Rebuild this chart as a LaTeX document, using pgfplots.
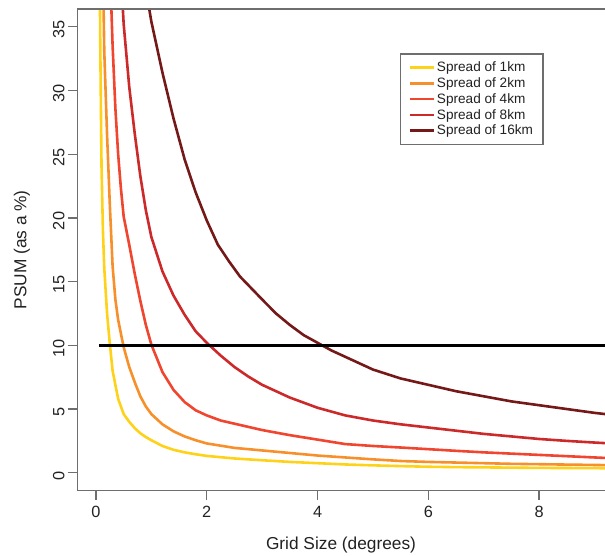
\documentclass[border=0pt]{standalone}
\usepackage{fontspec}
\setmainfont{Liberation Sans}
\usepackage{pgfplots}
\pgfplotsset{compat=1.18}

\definecolor{c1}{HTML}{FFD21A}
\definecolor{c2}{HTML}{F7902A}
\definecolor{c3}{HTML}{F0452E}
\definecolor{c4}{HTML}{CC2A2A}
\definecolor{c5}{HTML}{751818}
\definecolor{frame}{HTML}{6E6E6E}
\definecolor{txt}{HTML}{222222}

\begin{document}
\begin{tikzpicture}[x=1pt,y=1pt]
\useasboundingbox (0,0) rectangle (605,555);
\begin{axis}[
    at={(77pt,64.3pt)}, anchor=south west,
    scale only axis, width=528pt, height=481.7pt,
    xmin=-0.343, xmax=9.19, ymin=-1.41, ymax=36.4,
    xtick={0,2,4,6,8}, ytick={0,5,...,35},
    xtick pos=bottom, ytick pos=left,
    tick align=outside, major tick length=9pt,
    every tick/.style={frame, line width=1.2pt},
    axis line style={draw=none},
    /pgf/number format/assume math mode=true,
    tick label style={font=\fontsize{16.3}{18}\selectfont, text=txt},
    xticklabel style={yshift=-3pt},
    yticklabel style={rotate=90, anchor=south, xshift=-3pt},
    xlabel={Grid Size (degrees)},
    ylabel={PSUM (as a \%)},
    every axis x label/.style={at={(axis description cs:0.5,0)}, yshift=-54pt, anchor=center,
        font=\fontsize{17.3}{19}\selectfont, text=txt},
    every axis y label/.style={at={(axis description cs:0,0.5)}, xshift=-55pt, rotate=90, anchor=center,
        font=\fontsize{17.3}{19}\selectfont, text=txt},
    legend style={at={(rel axis cs:0.6117,0.908)}, anchor=north west,
        draw=frame, line width=1.2pt, fill=white,
        font=\fontsize{13.6}{15}\selectfont, text=txt,
        inner xsep=8pt, inner ysep=6pt, row sep=0.4pt},
    legend cell align=left,
    legend image code/.code={\draw[#1, line width=2.4pt] (0pt,0pt) -- (24pt,0pt);},
    every axis plot/.append style={line width=2.6pt, line join=round},
]
\addplot[c1] coordinates {(0.05,52) (0.075,34.5) (0.1,24) (0.125,19) (0.15,16) (0.2,12.5) (0.25,10.1) (0.3,8.0) (0.35,6.9) (0.4,5.8) (0.5,4.6) (0.6,4.0) (0.7,3.5) (0.8,3.1) (0.9,2.8) (1.0,2.55) (1.2,2.1) (1.4,1.8) (1.6,1.6) (1.8,1.45) (2.0,1.32) (2.5,1.12) (3.0,0.98) (3.5,0.85) (4.0,0.75) (4.5,0.65) (5.0,0.58) (5.5,0.52) (6.0,0.47) (6.5,0.44) (7.0,0.42) (7.5,0.40) (8.0,0.38) (8.5,0.37) (9.0,0.36) (9.5,0.34)};
\addlegendentry{Spread of 1km}
\addplot[c2] coordinates {(0.1,46) (0.15,33) (0.2,26.5) (0.25,21.0) (0.3,16.2) (0.35,13.6) (0.4,12.0) (0.5,9.85) (0.6,8.3) (0.7,7.1) (0.8,6.0) (0.9,5.2) (1.0,4.6) (1.2,3.8) (1.4,3.25) (1.6,2.85) (1.8,2.55) (2.0,2.3) (2.5,1.95) (3.0,1.75) (3.5,1.55) (4.0,1.35) (4.5,1.2) (5.0,1.05) (5.5,0.92) (6.0,0.85) (6.5,0.8) (7.0,0.75) (7.5,0.7) (8.0,0.67) (8.5,0.64) (9.0,0.61) (9.5,0.58)};
\addlegendentry{Spread of 2km}
\addplot[c3] coordinates {(0.2,50) (0.25,40) (0.3,33.5) (0.35,28.6) (0.4,25.0) (0.45,22.3) (0.5,20.1) (0.6,17.9) (0.7,15.6) (0.8,13.5) (0.9,11.6) (1.0,10.05) (1.2,7.9) (1.4,6.5) (1.6,5.55) (1.8,4.9) (2.0,4.5) (2.25,4.1) (2.5,3.85) (2.75,3.6) (3.0,3.35) (3.5,2.95) (4.0,2.6) (4.5,2.25) (5.0,2.1) (5.5,1.98) (6.0,1.85) (6.5,1.72) (7.0,1.6) (7.5,1.5) (8.0,1.4) (8.5,1.3) (9.0,1.2) (9.5,1.1)};
\addlegendentry{Spread of 4km}
\addplot[c4] coordinates {(0.4,43) (0.5,35.2) (0.6,30.3) (0.7,26.6) (0.8,23.3) (0.9,20.6) (1.0,18.5) (1.2,15.8) (1.4,13.9) (1.6,12.4) (1.8,11.1) (2.0,10.2) (2.25,9.2) (2.5,8.3) (2.75,7.55) (3.0,6.9) (3.5,5.9) (4.0,5.1) (4.5,4.5) (5.0,4.1) (5.5,3.8) (6.0,3.55) (6.5,3.3) (7.0,3.05) (7.5,2.85) (8.0,2.65) (8.5,2.5) (9.0,2.37) (9.5,2.25)};
\addlegendentry{Spread of 8km}
\addplot[c5] coordinates {(0.8,42) (0.9,38.0) (1.0,35.4) (1.2,31.4) (1.4,27.8) (1.6,24.6) (1.8,22.0) (2.0,19.8) (2.2,17.9) (2.4,16.6) (2.6,15.4) (2.8,14.5) (3.0,13.6) (3.25,12.5) (3.5,11.6) (3.75,10.8) (4.0,10.2) (4.25,9.6) (4.5,9.1) (4.75,8.6) (5.0,8.1) (5.5,7.4) (6.0,6.9) (6.5,6.4) (7.0,6.0) (7.5,5.6) (8.0,5.3) (8.5,5.0) (9.0,4.7) (9.5,4.45)};
\addlegendentry{Spread of 16km}
\addplot[black, line width=2.8pt, forget plot] coordinates {(0.05,10) (9.5,10)};
\draw[frame, line width=1.3pt] (rel axis cs:1,1) -- (rel axis cs:0,1) -- (rel axis cs:0,0) -- (rel axis cs:1,0);
\end{axis}
\end{tikzpicture}
\end{document}
